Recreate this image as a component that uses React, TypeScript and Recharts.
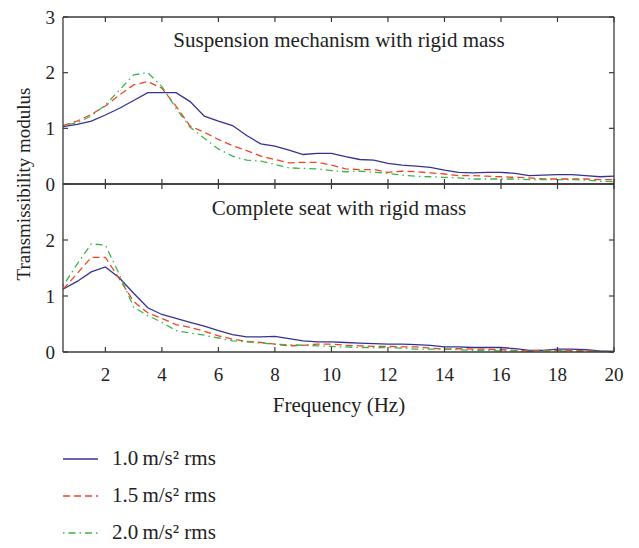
import React from 'react';
import { LineChart, Line, XAxis, YAxis, ReferenceLine } from 'recharts';

const freqs = [0.5,1,1.5,2,2.5,3,3.5,4,4.5,5,5.5,6,6.5,7,7.5,8,8.5,9,9.5,10,10.5,11,11.5,12,12.5,13,13.5,14,14.5,15,15.5,16,16.5,17,17.5,18,18.5,19,19.5,20];

const suspension10 = [1.03,1.07,1.13,1.24,1.36,1.50,1.64,1.64,1.64,1.48,1.22,1.13,1.05,0.87,0.72,0.68,0.61,0.53,0.55,0.55,0.49,0.44,0.43,0.37,0.34,0.32,0.30,0.25,0.21,0.20,0.21,0.21,0.19,0.15,0.16,0.17,0.17,0.15,0.13,0.14];
const suspension15 = [1.05,1.13,1.25,1.40,1.60,1.78,1.84,1.72,1.40,1.04,0.93,0.80,0.69,0.60,0.50,0.44,0.38,0.39,0.39,0.34,0.27,0.26,0.26,0.21,0.23,0.22,0.20,0.18,0.15,0.15,0.14,0.13,0.12,0.11,0.09,0.09,0.09,0.09,0.08,0.08];
const suspension20 = [1.05,1.10,1.22,1.42,1.69,1.96,2.00,1.75,1.36,1.02,0.82,0.63,0.50,0.43,0.41,0.35,0.29,0.28,0.27,0.24,0.22,0.23,0.21,0.19,0.16,0.14,0.13,0.12,0.11,0.09,0.09,0.09,0.09,0.08,0.08,0.08,0.08,0.07,0.05,0.04];

const seat10 = [1.12,1.26,1.43,1.52,1.32,1.05,0.79,0.67,0.60,0.53,0.46,0.38,0.31,0.27,0.27,0.28,0.24,0.20,0.18,0.18,0.17,0.16,0.15,0.14,0.14,0.13,0.12,0.09,0.09,0.08,0.08,0.08,0.06,0.03,0.03,0.05,0.05,0.04,0.02,0.01];
const seat15 = [1.12,1.40,1.69,1.69,1.30,0.90,0.70,0.60,0.49,0.44,0.37,0.29,0.23,0.19,0.17,0.14,0.11,0.12,0.14,0.14,0.12,0.11,0.10,0.10,0.09,0.09,0.07,0.05,0.06,0.05,0.05,0.04,0.03,0.02,0.03,0.03,0.03,0.02,0.01,0.01];
const seat20 = [1.18,1.57,1.93,1.91,1.38,0.80,0.65,0.53,0.38,0.34,0.30,0.25,0.20,0.18,0.16,0.14,0.13,0.12,0.11,0.10,0.09,0.08,0.08,0.08,0.07,0.05,0.05,0.05,0.04,0.03,0.03,0.02,0.02,0.01,0.02,0.02,0.01,0.01,0.01,0.00];

const xTicksLabeled = [2,4,6,8,10,12,14,16,18,20];
const yTicksTop = [0,1,2,3];
const yTicksBottom = [0,1,2];
const xMin = 0.5;
const xMax = 20;
const yMax = 3;

const seriesNames = ['1.0\u2009m/s\u00B2 rms', '1.5\u2009m/s\u00B2 rms', '2.0\u2009m/s\u00B2 rms'];
const seriesKeys = ['a', 'b', 'c'];
const seriesColors = ['#35338f', '#ee4423', '#3cb44b'];
const seriesDashes = ['', '7 4', '1.5 4 7 4'];

const panelTitles = ['Suspension mechanism with rigid mass', 'Complete seat with rigid mass'];

const topData = freqs.map((f, i) => ({ f, a: suspension10[i], b: suspension15[i], c: suspension20[i] }));
const bottomData = freqs.map((f, i) => ({ f, a: seat10[i], b: seat15[i], c: seat20[i] }));

const FONT = '"Liberation Serif", "DejaVu Serif", serif';
const frameColor = '#3a3a3a';
const TICK_LEN = 5;
const X_LABEL_GAP = 16;
const Y_LABEL_GAP = 8;
const PLOT_LEFT = 63;
const RIGHT_MARGIN = 25;
const CHART_W = 639;
const PLOT_RIGHT = CHART_W - RIGHT_MARGIN;

const TOP_CHART = { offset: 0, height: 200, marginTop: 17, marginBottom: 15, bottomAxisHeight: 1 };
const BOT_CHART = { offset: 150, height: 250, marginTop: 34, marginBottom: 0, bottomAxisHeight: 48 };

function Panel({ data, yTicks, showXLabels, cfg }: any) {
  const plotTop = cfg.marginTop;
  const plotBottom = cfg.height - cfg.marginBottom - cfg.bottomAxisHeight;

  const xTick = (props: any) => {
    const { x, payload } = props;
    return (
      <g>
        <line x1={x} x2={x} y1={plotBottom} y2={plotBottom - TICK_LEN} stroke={frameColor} strokeWidth={1.2} />
        <line x1={x} x2={x} y1={plotTop} y2={plotTop + TICK_LEN} stroke={frameColor} strokeWidth={1.2} />
        {showXLabels ? (
          <text x={x} y={plotBottom + X_LABEL_GAP} dy="0.71em" textAnchor="middle" fontFamily={FONT} fontSize={19} fill="#222">{payload.value}</text>
        ) : null}
      </g>
    );
  };

  const yTick = (props: any) => {
    const { y, payload } = props;
    return (
      <g>
        <line x1={PLOT_LEFT} x2={PLOT_LEFT + TICK_LEN} y1={y} y2={y} stroke={frameColor} strokeWidth={1.2} />
        <line x1={PLOT_RIGHT - TICK_LEN} x2={PLOT_RIGHT} y1={y} y2={y} stroke={frameColor} strokeWidth={1.2} />
        <text x={PLOT_LEFT - Y_LABEL_GAP} y={y} dy="0.355em" textAnchor="end" fontFamily={FONT} fontSize={19} fill="#222">{payload.value}</text>
      </g>
    );
  };

  return (
    <LineChart width={CHART_W} height={cfg.height} data={data} margin={{ top: cfg.marginTop, right: RIGHT_MARGIN, left: 0, bottom: cfg.marginBottom }}>
      <XAxis dataKey="f" type="number" domain={[xMin, xMax]} ticks={xTicksLabeled} interval={0}
        orientation="bottom" height={cfg.bottomAxisHeight}
        tick={xTick} axisLine={{ stroke: frameColor, strokeWidth: 1.3 }} tickLine={{ stroke: 'transparent' }} />
      <YAxis type="number" domain={[0, yMax]} ticks={yTicks} width={PLOT_LEFT} interval={0}
        orientation="left" tick={yTick}
        axisLine={{ stroke: frameColor, strokeWidth: 1.3 }} tickLine={{ stroke: 'transparent' }} />
      <ReferenceLine y={yMax} stroke={frameColor} strokeWidth={1.3} />
      <ReferenceLine x={xMax} stroke={frameColor} strokeWidth={1.3} />
      {seriesKeys.map((k, i) => (
        <Line key={k} type="linear" dataKey={k} stroke={seriesColors[i]}
          strokeWidth={1.3} strokeDasharray={seriesDashes[i] || undefined} dot={false}
          isAnimationActive={false} />
      ))}
    </LineChart>
  );
}

export default function App() {
  return (
    <div style={{ position: 'absolute', left: 0, top: 0, width: 639, height: 548, background: '#fff' }}>
      <div style={{ position: 'absolute', left: 0, top: TOP_CHART.offset }}>
        <Panel data={topData} yTicks={yTicksTop} showXLabels={false} cfg={TOP_CHART} />
      </div>
      <div style={{ position: 'absolute', left: 0, top: BOT_CHART.offset }}>
        <Panel data={bottomData} yTicks={yTicksBottom} showXLabels={true} cfg={BOT_CHART} />
      </div>
      <svg width={639} height={548} style={{ position: 'absolute', left: 0, top: 0, pointerEvents: 'none' }}>
        <text x={339} y={47} textAnchor="middle" fontFamily={FONT} fontSize={21} fill="#222">{panelTitles[0]}</text>
        <text x={339} y={215} textAnchor="middle" fontFamily={FONT} fontSize={21} fill="#222">{panelTitles[1]}</text>
        <text x={339} y={412} textAnchor="middle" fontFamily={FONT} fontSize={21} fill="#222">Frequency (Hz)</text>
        <text transform="translate(30,184) rotate(-90)" textAnchor="middle" fontFamily={FONT} fontSize={19} fill="#222">Transmissibility modulus</text>
        {seriesNames.map((name, i) => {
          const y = 459 + i * 37;
          return (
            <g key={name}>
              <line x1={63} x2={98} y1={y} y2={y} stroke={seriesColors[i]} strokeWidth={1.3} strokeDasharray={seriesDashes[i] || undefined} />
              <text x={112} y={y + 6} fontFamily={FONT} fontSize={21} fill="#222">{name}</text>
            </g>
          );
        })}
      </svg>
    </div>
  );
}
